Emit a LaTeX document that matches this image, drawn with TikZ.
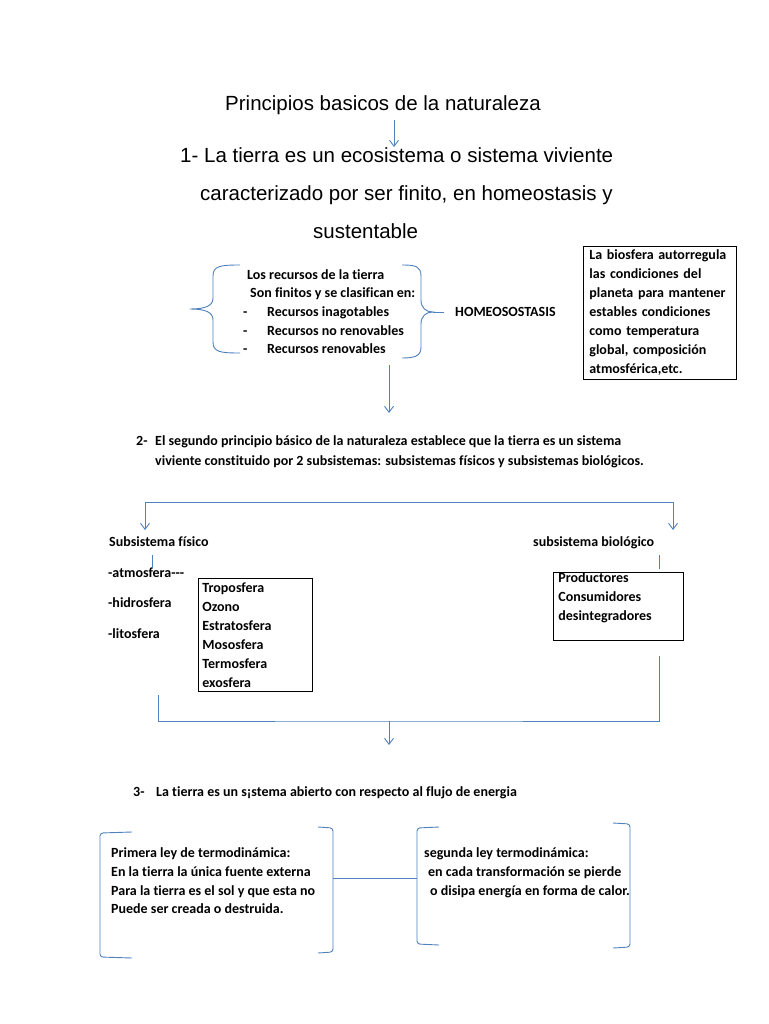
\documentclass[tikz,border=0pt]{standalone}
\usepackage{fontspec}
\setmainfont[Ligatures={NoCommon}]{Carlito}
\newfontfamily\arialf{Liberation Sans}
\usetikzlibrary{arrows.meta}
\definecolor{lnblue}{RGB}{79,129,189}
\tikzset{
  conn/.style={draw=lnblue, line width=0.9pt},
  arr/.style={conn, -{Straight Barb[length=6pt,width=9pt]}},
  hd/.style={anchor=base west, inner sep=0pt, font=\arialf\fontsize{20.5}{24}\selectfont},
  bt/.style={anchor=base west, inner sep=0pt, font=\bfseries\fontsize{14}{19}\selectfont},
  boxn/.style={draw=black, line width=0.8pt, anchor=north west, align=left, inner ysep=0pt,
    font=\bfseries\fontsize{14}{19}\selectfont},
}
\begin{document}
\begin{tikzpicture}[x=1pt,y=-1pt]
\useasboundingbox[fill=white] (0,0) rectangle (768,1024);

% ---- heading
\node[hd] (title) at (225,111) {Principios basicos de la naturaleza};
\node[hd] (l1a) at (180,163) {1- La tierra es un ecosistema o sistema viviente};
\node[hd] (l1b) at (200,201) {caracterizado por ser finito, en homeostasis y};
\node[hd] (l1c) at (313,239) {sustentable};
\coordinate (a1s) at (394,120);
\coordinate (a1e) at (394,147);
\draw[arr] (a1s) -- (a1e);

% ---- resources list with braces
\node[bt] (rec1) at (247,279) {Los recursos de la tierra};
\node[bt] (rec2) at (250,297) {Son finitos y se clasifican en:};
\node[bt] (d1) at (243,316) {-};
\node[bt] (d2) at (243,335) {-};
\node[bt] (d3) at (243,353) {-};
\node[bt] (it1) at (267,316) {Recursos inagotables};
\node[bt] (it2) at (267,335) {Recursos no renovables};
\node[bt] (it3) at (267,353) {Recursos renovables};
\node[bt] (homeo) at (455,316) {HOMEOSOSTASIS};

\draw[conn] (240,265) .. controls (220,265) and (213,266) .. (213,276) -- (213,298)
  .. controls (213,306) and (205,309) .. (190,309)
  .. controls (205,309) and (213,312) .. (213,320) -- (213,342)
  .. controls (213,352) and (220,353) .. (240,353);
\coordinate (btip) at (433,312);
\draw[conn] (402,265) .. controls (415,265) and (421,266) .. (421,276) -- (421,300)
  .. controls (421,308) and (426,312) .. (btip)
  .. controls (426,312) and (421,316) .. (421,324) -- (421,347)
  .. controls (421,356) and (415,358) .. (402,358);
\coordinate (hl) at (444,312);
\draw[conn] (btip) -- (hl);

\node[boxn, inner xsep=6pt, text width=141pt, minimum height=133pt] (bio) at (583,246)
  {\mbox{La biosfera autorregula}\\\mbox{las condiciones del}\\\mbox{planeta para mantener}\\
   \mbox{estables condiciones}\\\mbox{como temperatura}\\\mbox{global, composición}\\\mbox{atmosférica,etc.}};

\coordinate (a2s) at (389,365);
\coordinate (a2e) at (389,413);
\draw[arr] (a2s) -- (a2e);

% ---- section 2
\node[bt] (n2) at (136,445) {2-};
\node[bt] (s2a) at (155,445) {El segundo principio básico de la naturaleza establece que la tierra es un sistema};
\node[bt] (s2b) at (155,465) {viviente constituido por 2 subsistemas: subsistemas físicos y subsistemas biológicos.};

\coordinate (hc1) at (145,502);
\coordinate (hc2) at (673,502);
\coordinate (hf) at (145,530);
\coordinate (hb) at (673,530);
\draw[conn] (hc1) -- (hc2);
\draw[arr] (hc1) -- (hf);
\draw[arr] (hc2) -- (hb);

\node[bt] (sfis) at (109,546) {Subsistema físico};
\node[bt] (sbio) at (533,546) {subsistema biológico};

\node[bt] (atm) at (108,577) {-atmosfera{-}{-}{-}};
\node[bt] (hid) at (108,607) {-hidrosfera};
\node[bt] (lit) at (108,638) {-litosfera};

\node[boxn, inner xsep=4pt, text width=106pt, minimum height=113pt] (capas) at (198,578)
  {Troposfera\\Ozono\\Estratosfera\\Mososfera\\Termosfera\\exosfera};
\node[boxn, inner xsep=5pt, text width=120pt, minimum height=68pt] (prod) at (553,572)
  {Productores\\Consumidores\\desintegradores\\\mbox{}};

\coordinate (t1a) at (152,555);
\coordinate (t1b) at (152,568);
\draw[conn] (t1a) -- (t1b);
\coordinate (t2a) at (659,555);
\coordinate (t2b) at (659,569);
\draw[conn] (t2a) -- (t2b);

\coordinate (j1) at (158,695);
\coordinate (j2) at (659,656);
\coordinate (j3) at (389,721);
\coordinate (j4) at (389,745);
\draw[conn] (j1) |- (j3) -| (j2);
\draw[arr] (j3) -- (j4);

% ---- section 3
\node[bt] (n3) at (133,796) {3-};
\node[bt] (s3) at (156,796) {La tierra es un s¡stema abierto con respecto al flujo de energia};

\node[bt] (p1) at (111,857) {Primera ley de termodinámica:};
\node[bt] (p2) at (111,876) {En la tierra la única fuente externa};
\node[bt] (p3) at (111,895) {Para la tierra es el sol y que esta no};
\node[bt] (p4) at (111,913) {Puede ser creada o destruida.};

\node[bt] (q1) at (424,857) {segunda ley termodinámica:};
\node[bt] (q2) at (428,876) {en cada transformación se pierde};
\node[bt] (q3) at (430,895) {o disipa energía en forma de calor.};

\draw[conn, rounded corners=3pt] (132,832) -- (100,833) -- (100,957) -- (132,958);
\draw[conn, rounded corners=3pt] (318,827) -- (333,828) -- (333,952) -- (318,953);
\draw[conn, rounded corners=3pt] (439,827) -- (417,828) -- (417,944) -- (439,945);
\draw[conn, rounded corners=3pt] (613,823) -- (630,824) -- (630,947) -- (613,948);
\coordinate (lb) at (333,878);
\coordinate (rb) at (417,878);
\draw[conn] (lb) -- (rb);
\end{tikzpicture}
\end{document}
